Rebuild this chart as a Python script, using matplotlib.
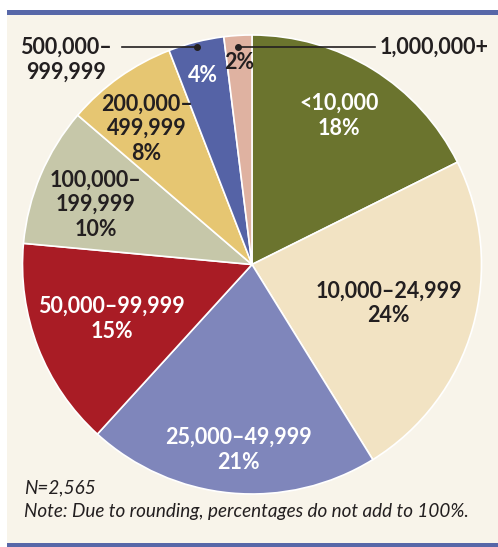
import numpy as np
import matplotlib.pyplot as plt
from matplotlib.patches import Rectangle

labels = ["<10,000", "10,000\u201324,999", "25,000\u201349,999", "50,000\u201399,999",
          "100,000\u2013\n199,999", "200,000\u2013\n499,999", "500,000\u2013\n999,999", "1,000,000+"]
values = [18, 24, 21, 15, 10, 8, 4, 2]
colors = ["#6b742e", "#f2e3c3", "#7f86bb", "#a91c25", "#c6c7a9", "#e6c672", "#5563a6", "#dfb2a1"]
text_colors = ["white", "#231f20", "white", "white", "#231f20", "#231f20", "white", "#231f20"]
label_r = [0.75, 0.62, 0.81, 0.655, 0.73, 0.75, 0.85, 0.88]
label_da = [1.5, 0, 1, 0, 2, 2.5, 0.5, 0]

plt.rcParams['font.family'] = ['Lato', 'DejaVu Sans']

W, H = 498, 547
fig = plt.figure(figsize=(W / 100, H / 100), dpi=100)
fig.patch.set_facecolor("white")
ax = fig.add_axes([0, 0, 1, 1])

cx, cy, R = 252, 282.5, 229.5
wedges, _ = ax.pie(values, colors=colors, startangle=90, counterclock=False,
                   center=(cx, cy), radius=R, frame=True,
                   wedgeprops=dict(edgecolor="white", linewidth=1.2))
ax.set_xlim(0, W)
ax.set_ylim(0, H)
ax.set_aspect('equal')
ax.axis('off')

# panel + blue rules
ax.add_patch(Rectangle((7, 4), W - 7, 528, facecolor="#f8f4ea", edgecolor="none", zorder=0))
ax.add_patch(Rectangle((7, 532), W - 7, 5, facecolor="#5767a8", edgecolor="none", zorder=1))
ax.add_patch(Rectangle((7, 0), W - 7, 4, facecolor="#5767a8", edgecolor="none", zorder=1))

for i, w in enumerate(wedges):
    mid = np.deg2rad((w.theta1 + w.theta2) / 2 + label_da[i])
    x = cx + label_r[i] * R * np.cos(mid)
    y = cy + label_r[i] * R * np.sin(mid)
    pct = f"{values[i]}%"
    txt = labels[i] + "\n" + pct if i < 6 else pct
    ax.text(x, y, txt, ha="center", va="center", color=text_colors[i],
            fontsize=15.5, fontweight="bold", linespacing=1.22, zorder=5)

# callouts for the two small slices
line_y = H - 47
for i, x_end in [(6, 122), (7, 375)]:
    w = wedges[i]
    mid = np.deg2rad((w.theta1 + w.theta2) / 2)
    dx = cx + 0.975 * R * np.cos(mid)
    ax.plot([dx, x_end], [line_y, line_y], color="#231f20", lw=1.2, zorder=6)
    ax.plot(dx, line_y, "o", color="#231f20", ms=4, zorder=6)

ax.text(66, H - 37, labels[6], ha="center", va="top", color="#231f20",
        fontsize=15.5, fontweight="bold", linespacing=1.22)
ax.text(380, line_y, labels[7], ha="left", va="center", color="#231f20",
        fontsize=15.5, fontweight="bold")

ax.text(24, H - 488, "N=2,565", ha="left", va="center", style="italic",
        fontsize=13.6, color="#231f20")
ax.text(24, H - 512, "Note: Due to rounding, percentages do not add to 100%.",
        ha="left", va="center", style="italic", fontsize=13.6, color="#231f20")

fig.savefig("out.png", dpi=100, facecolor=fig.get_facecolor())
